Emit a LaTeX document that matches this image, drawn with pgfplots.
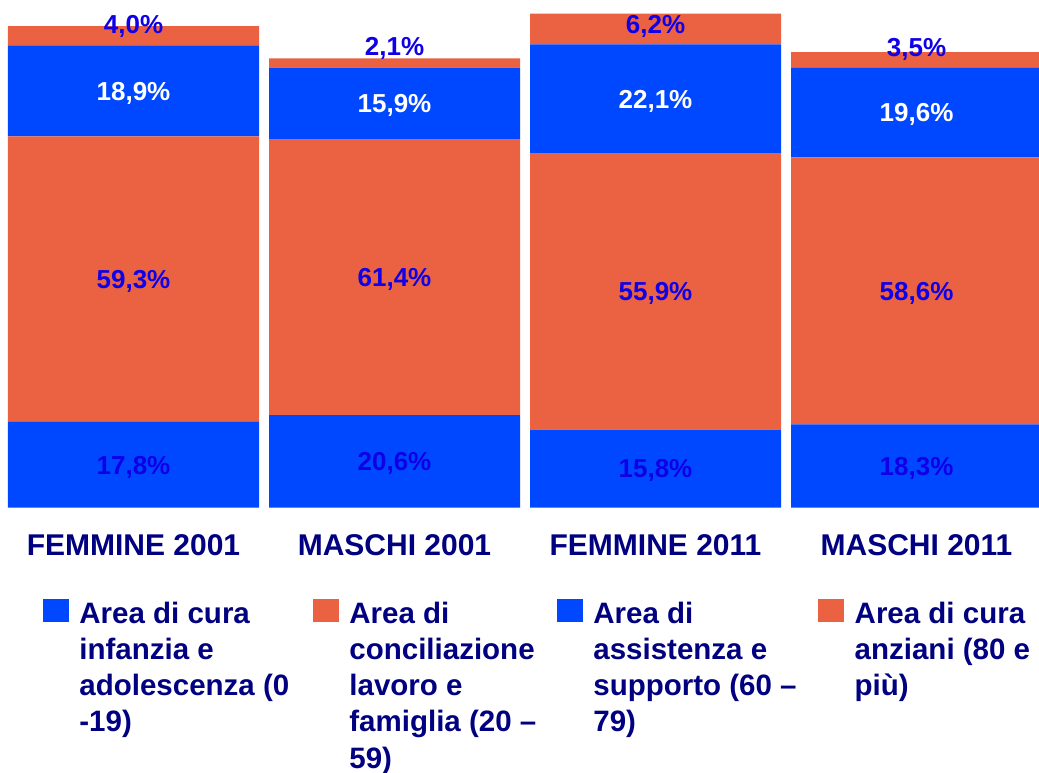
\documentclass[border=0pt]{standalone}
\usepackage{fontspec}
\setmainfont{Liberation Sans}
\usepackage{pgfplots}
\usepackage{pgfplotstable}
\pgfplotsset{compat=1.18}
\definecolor{barblue}{RGB}{0,72,255}
\definecolor{barorange}{RGB}{234,98,66}
\definecolor{lblue}{RGB}{16,0,232}
\definecolor{navy}{RGB}{0,0,128}
% a,b,c,d = percentages of each segment; tot = relative bar height
\pgfplotstableread{
x a b c d tot ly
0 17.8 59.3 18.9 4.0 100 100.27
1 20.6 61.4 15.9 2.1 93.3 95.79
2 15.8 55.9 22.1 6.2 102.55 100.31
3 18.3 58.6 19.6 3.5 94.6 95.58
}\data
\pgfplotsset{
  myaxis/.style={
    at={(0pt,265.3pt)}, anchor=south west,
    scale only axis, width=1039pt, height=507.7pt,
    xmin=-0.5115, xmax=3.4693, ymin=0, ymax=105.4,
    clip=false,
  },
  pct/.style={
    draw=none, mark=none, forget plot,
    nodes near coords={\pgfmathprintnumber[assume math mode=true,fixed,fixed zerofill,precision=1,use comma]{\pgfplotspointmeta}\%},
    point meta=explicit,
    every node near coord/.append style={font=\fontsize{26}{30}\selectfont\bfseries, anchor=base, yshift=-9.3pt, inner sep=0pt},
  },
}
\begin{document}
\begin{tikzpicture}
\path[use as bounding box] (0,0) rectangle (1039pt,773pt);
\begin{axis}[myaxis,
  ybar stacked, bar width=0.9617,
  axis line style={draw=none}, major tick length=0pt,
  ytick=\empty,
  xtick={0,1,2,3},
  xticklabels={FEMMINE 2001,MASCHI 2001,FEMMINE 2011,MASCHI 2011},
  xticklabel style={font=\fontsize{30}{36}\selectfont\bfseries, text=navy, anchor=base, yshift=-48pt},
  legend columns=4,
  legend image code/.code={\fill[#1] (0pt,1pt) rectangle (26pt,24pt);},
  legend style={at={(axis description cs:0.0411,-0.18042)}, anchor=north west,
    draw=none, fill=none, inner sep=0pt, outer sep=0pt,
    nodes={inner sep=0pt, text=navy},
    cells={anchor=base west},
    font=\fontsize{29.5}{36.2}\selectfont\bfseries,
    /tikz/every odd column/.append style={column sep=10.7pt},
    /tikz/every even column/.append style={column sep=0pt},
  },
]
\addplot[fill=barblue, draw=none] table[x=x, y expr=\thisrow{a}*\thisrow{tot}/100] {\data};
\addlegendentry{\parbox[t]{233.3pt}{\raggedright Area di cura\\infanzia e\\adolescenza (0\\-19)}}
\addplot[fill=barorange, draw=none] table[x=x, y expr=\thisrow{b}*\thisrow{tot}/100] {\data};
\addlegendentry{\parbox[t]{207.3pt}{\raggedright Area di\\conciliazione\\lavoro e\\famiglia (20 –\\59)}}
\addplot[fill=barblue, draw=none] table[x=x, y expr=\thisrow{c}*\thisrow{tot}/100] {\data};
\addlegendentry{\parbox[t]{224.6pt}{\raggedright Area di\\assistenza e\\supporto (60 –\\79)}}
\addplot[fill=barorange, draw=none] table[x=x, y expr=\thisrow{d}*\thisrow{tot}/100] {\data};
\addlegendentry{\parbox[t]{180pt}{\raggedright Area di cura\\anziani (80 e\\più)}}
\end{axis}
\begin{axis}[myaxis, hide axis]
\addplot[pct, every node near coord/.append style={text=lblue}] table[x=x, y expr=\thisrow{a}*\thisrow{tot}/200, meta=a] {\data};
\addplot[pct, every node near coord/.append style={text=lblue}] table[x=x, y expr=(\thisrow{a}+\thisrow{b}/2)*\thisrow{tot}/100, meta=b] {\data};
\addplot[pct, every node near coord/.append style={text=white}] table[x=x, y expr=(\thisrow{a}+\thisrow{b}+\thisrow{c}/2)*\thisrow{tot}/100, meta=c] {\data};
\addplot[pct, every node near coord/.append style={text=lblue}] table[x=x, y=ly, meta=d] {\data};
\end{axis}
\end{tikzpicture}
\end{document}
